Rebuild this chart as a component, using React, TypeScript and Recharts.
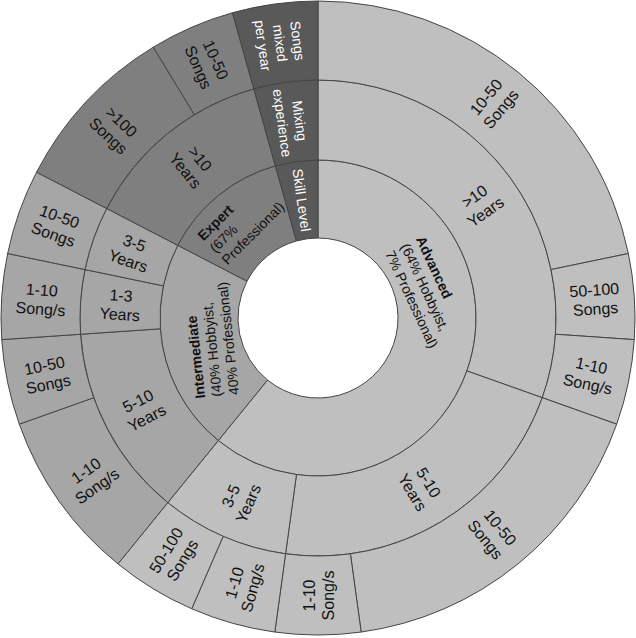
import React from 'react';
import { PieChart, Pie, Cell } from 'recharts';

// ---- data (counts of participants; last entry of each ring is the header wedge) ----
const skillNames = ['Advanced\n(64% Hobbyist,\n7% Professional)', 'Intermediate\n(40% Hobbyist,\n40% Professional)', 'Expert\n(67%\nProfessional)', 'Skill Level'];
const skillCounts = [14, 5, 3, 1];
const skillGroup = [0, 1, 2, 3];

const experienceNames = ['>10\nYears', '5-10\nYears', '3-5\nYears', '5-10\nYears', '1-3\nYears', '3-5\nYears', '>10\nYears', 'Mixing\nexperience'];
const experienceCounts = [7, 5, 2, 3, 1, 1, 3, 1];
const experienceGroup = [0, 0, 0, 1, 1, 1, 2, 3];

const songNames = ['10-50\nSongs', '50-100\nSongs', '1-10\nSong/s', '10-50\nSongs', '1-10\nSong/s', '1-10\nSong/s', '50-100\nSongs', '1-10\nSong/s', '10-50\nSongs', '1-10\nSong/s', '10-50\nSongs', '>100\nSongs', '10-50\nSongs', 'Songs\nmixed\nper year'];
const songCounts = [5, 1, 1, 4, 1, 1, 1, 2, 1, 1, 1, 2, 1, 1];
const songGroup = [0, 0, 0, 0, 0, 0, 0, 1, 1, 1, 1, 2, 2, 3];

const groupColors = ['#bfbfbf', '#a6a6a6', '#7f7f7f', '#595959'];

const skillData = skillNames.map((n, i) => ({ name: n, value: skillCounts[i], group: skillGroup[i] }));
const experienceData = experienceNames.map((n, i) => ({ name: n, value: experienceCounts[i], group: experienceGroup[i] }));
const songData = songNames.map((n, i) => ({ name: n, value: songCounts[i], group: songGroup[i] }));

// ---- layout ----
const W = 636;
const H = 638;
const CX = 318;
const CY = 318;
const FONT = '"Liberation Sans", Arial, Helvetica, sans-serif';
const STROKE = '#454545';

// hand-placed positions of the three skill-level captions (left aligned, anchored at the middle line start)
const skillCaptionLayout: Record<number, { theta: number; r: number; rot: number }> = {
  0: { theta: 49.6, r: 114, rot: 65 },
  1: { theta: 232, r: 128, rot: -96 },
  2: { theta: 302.7, r: 126, rot: -45 },
};

const toXY = (theta: number, r: number) => {
  const rad = (theta * Math.PI) / 180;
  return [CX + r * Math.sin(rad), CY - r * Math.cos(rad)];
};

const clockAngle = (midAngle: number) => (((90 - midAngle) % 360) + 360) % 360;

const makeRadialLabel = (names: string[], groups: number[], fontSize: number, lineH: number) => (props: any) => {
  const { midAngle, innerRadius, outerRadius, index } = props;
  const theta = clockAngle(midAngle);
  const r = (Number(innerRadius) + Number(outerRadius)) / 2;
  const [x, y] = toXY(theta, r);
  let rot = theta < 180 ? theta - 90 : theta + 90;
  if (rot > 180) rot -= 360;
  const lines = names[index].split('\n');
  const header = groups[index] === 3;
  const fs = header ? 14 : fontSize;
  const lh = header ? 17.5 : lineH;
  return (
    <g key={`lbl-${index}`} transform={`translate(${x},${y}) rotate(${rot})`}>
      <text
        textAnchor="middle"
        dominantBaseline="central"
        fontFamily={FONT}
        fontSize={fs}
        fill={header ? '#ffffff' : '#111111'}
      >
        {lines.map((ln, i) => (
          <tspan key={i} x={0} y={(i - (lines.length - 1) / 2) * lh}>
            {ln}
          </tspan>
        ))}
      </text>
    </g>
  );
};

const skillLabel = (props: any) => {
  const { index } = props;
  const lay = skillCaptionLayout[index];
  if (!lay) return makeRadialLabel(skillNames, skillGroup, 14, 17)(props);
  const [x, y] = toXY(lay.theta, lay.r);
  const lines = skillNames[index].split('\n');
  const lh = 17;
  return (
    <g key={`sk-${index}`} transform={`translate(${x},${y}) rotate(${lay.rot})`}>
      <text textAnchor="start" dominantBaseline="central" fontFamily={FONT} fontSize={14} fill="#111111">
        {lines.map((ln, i) => (
          <tspan key={i} x={0} y={(i - 1) * lh} fontWeight={i === 0 ? 700 : 400}>
            {ln}
          </tspan>
        ))}
      </text>
    </g>
  );
};

export default function App() {
  return (
    <div style={{ position: 'absolute', left: 0, top: 0, width: W, height: H, background: '#ffffff' }}>
      <PieChart width={W} height={H} margin={{ top: 0, right: 0, bottom: 0, left: 0 }}>
        <Pie
          data={skillData}
          dataKey="value"
          cx={CX}
          cy={CY}
          innerRadius={80}
          outerRadius={158}
          startAngle={90}
          endAngle={-270}
          stroke={STROKE}
          strokeWidth={1}
          isAnimationActive={false}
          labelLine={false}
          label={skillLabel}
        >
          {skillData.map((d, i) => (
            <Cell key={i} fill={groupColors[d.group]} />
          ))}
        </Pie>
        <Pie
          data={experienceData}
          dataKey="value"
          cx={CX}
          cy={CY}
          innerRadius={158}
          outerRadius={238}
          startAngle={90}
          endAngle={-270}
          stroke={STROKE}
          strokeWidth={1}
          isAnimationActive={false}
          labelLine={false}
          label={makeRadialLabel(experienceNames, experienceGroup, 16, 19)}
        >
          {experienceData.map((d, i) => (
            <Cell key={i} fill={groupColors[d.group]} />
          ))}
        </Pie>
        <Pie
          data={songData}
          dataKey="value"
          cx={CX}
          cy={CY}
          innerRadius={238}
          outerRadius={317}
          startAngle={90}
          endAngle={-270}
          stroke={STROKE}
          strokeWidth={1}
          isAnimationActive={false}
          labelLine={false}
          label={makeRadialLabel(songNames, songGroup, 16, 19)}
        >
          {songData.map((d, i) => (
            <Cell key={i} fill={groupColors[d.group]} />
          ))}
        </Pie>
      </PieChart>
    </div>
  );
}
